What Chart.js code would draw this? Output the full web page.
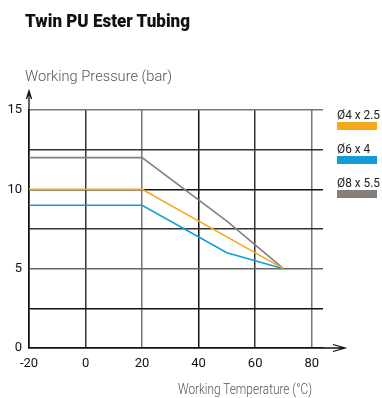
<!DOCTYPE html>
<html>
<head>
<meta charset="utf-8">
<script src="https://cdn.jsdelivr.net/npm/chart.js@4.4.1/dist/chart.umd.min.js"></script>
<style>
  html, body { margin: 0; padding: 0; background: #fff; }
  body { width: 382px; height: 398px; position: relative; overflow: hidden; font-family: Roboto, sans-serif; }
  #wrap { position: absolute; left: 0; top: 0; width: 382px; height: 398px; }
  .txt { position: absolute; white-space: nowrap; transform-origin: 0 0; line-height: 1; }
  .title { left: 25px; top: 13px; font-size: 17.5px; font-weight: 900; color: #111; }
  .ytitle { left: 25px; top: 69px; font-size: 14px; font-weight: 300; color: #555; }
  .xtitle { left: 178px; top: 382px; font-size: 14px; font-weight: 300; color: #555; }
  #legend { position: absolute; left: 337px; top: 108px; }
  .item { position: relative; height: 34px; }
  .item span { position: absolute; left: 0; top: 0; white-space: nowrap; font-size: 13px; line-height: 1; color: #222; transform-origin: 0 0; }
  .item i { position: absolute; left: 0; top: 14px; width: 40px; height: 8px; }
</style>
</head>
<body>
<div id="wrap"><canvas id="myChart"></canvas></div>
<div class="txt title" data-w="165">Twin PU Ester Tubing</div>
<div class="txt ytitle" data-w="147">Working Pressure (bar)</div>
<div class="txt xtitle" data-w="134">Working Temperature (°C)</div>
<div id="legend"></div>
<script>
const seriesNames = ['Ø4 x 2.5', 'Ø6 x 4', 'Ø8 x 5.5']
const seriesColors = ['#f6a81f', '#0f9ed9', '#877f7a']

// temperature (°C) / pressure (bar) pairs per tube size
const temp4 = [-20, 20, 70]
const pressure4 = [10, 10, 5]
const temp6 = [-20, 20, 50, 70]
const pressure6 = [9, 9, 6, 5]
const temp8 = [-20, 20, 50, 70]
const pressure8 = [12, 12, 8, 5]

const xTicks = [-20, 0, 20, 40, 60, 80]
const yLabels = [0, 5, 10, 15]

function toPoints(xs, ys) {
    return xs.map((x, i) => ({x: x, y: ys[i]}))
}

const series = [
    toPoints(temp4, pressure4),
    toPoints(temp6, pressure6),
    toPoints(temp8, pressure8)
]

// slightly uneven grid strokes
const vGrid = {'-20': '#111', '0': '#333', '20': '#777', '40': '#111', '60': '#333', '80': '#777'}
const hGrid = {'0': '#111', '2.5': '#111', '5': '#666', '7.5': '#333', '10': '#111', '12.5': '#333', '15': '#777'}

const tickFont = { family: 'Roboto, sans-serif', size: 13 }

// axis arrows drawn past the plot area
const arrows = {
    id: 'arrows',
    afterDraw(chart) {
        const ctx = chart.ctx
        const a = chart.chartArea
        ctx.save()
        ctx.strokeStyle = '#111'
        ctx.lineWidth = 1.3
        ctx.beginPath()
        ctx.moveTo(a.left, a.top)
        ctx.lineTo(a.left, a.top - 19)
        ctx.moveTo(a.left - 2.5, a.top - 11)
        ctx.lineTo(a.left, a.top - 19)
        ctx.lineTo(a.left + 2.5, a.top - 11)
        ctx.moveTo(a.right, a.bottom)
        ctx.lineTo(a.right + 22, a.bottom)
        ctx.moveTo(a.right + 10, a.bottom - 3.5)
        ctx.lineTo(a.right + 22, a.bottom)
        ctx.lineTo(a.right + 10, a.bottom + 3.5)
        ctx.stroke()
        ctx.restore()
    }
}

let currentChart

function createChart() {
    let ctx = document.getElementById('myChart')
    currentChart = new Chart(ctx, {
        type: 'line',
        data: {
            datasets: series.map((pts, i) => ({
                label: seriesNames[i],
                data: pts,
                borderColor: seriesColors[i],
                backgroundColor: seriesColors[i],
                borderWidth: 1.6,
                pointRadius: 0,
                tension: 0
            }))
        },
        options: {
            responsive: false,
            animation: false,
            layout: { padding: { top: 110, right: 59, bottom: 0, left: 0 } },
            plugins: { legend: { display: false }, tooltip: { enabled: false } },
            scales: {
                x: {
                    type: 'linear',
                    min: -20,
                    max: 84,
                    afterBuildTicks: scale => { scale.ticks = xTicks.map(v => ({value: v})) },
                    afterFit: scale => { scale.height = 50 },
                    grid: {
                        drawTicks: false,
                        lineWidth: 1.5,
                        color: c => vGrid[String(c.tick.value)] || '#333'
                    },
                    border: { color: '#111', width: 1.5 },
                    ticks: { padding: 8, color: '#111', font: tickFont }
                },
                y: {
                    min: 0,
                    max: 15,
                    afterFit: scale => { scale.width = 29 },
                    grid: {
                        drawTicks: false,
                        lineWidth: 1.5,
                        color: c => hGrid[String(c.tick.value)] || '#333'
                    },
                    border: { color: '#111', width: 1.5 },
                    ticks: {
                        stepSize: 2.5,
                        padding: 7,
                        color: '#111',
                        font: tickFont,
                        callback: v => yLabels.includes(v) ? v : ''
                    }
                }
            }
        },
        plugins: [arrows]
    })
}

function createLegend() {
    let legend = document.getElementById('legend')
    seriesNames.forEach((name, i) => {
        let item = document.createElement('div')
        item.className = 'item'
        let label = document.createElement('span')
        label.textContent = name
        let swatch = document.createElement('i')
        swatch.style.background = seriesColors[i]
        item.appendChild(label)
        item.appendChild(swatch)
        legend.appendChild(item)
    })
}

// squeeze the labels horizontally to a narrow face
function condense() {
    document.querySelectorAll('.txt').forEach(el => {
        let w = el.getBoundingClientRect().width
        el.style.transform = 'scaleX(' + (el.dataset.w / w) + ')'
    })
    let spans = document.querySelectorAll('.item span')
    let k = 43 / spans[0].getBoundingClientRect().width
    spans.forEach(s => { s.style.transform = 'scaleX(' + k + ')' })
}

let canvas = document.getElementById('myChart')
canvas.width = 382
canvas.height = 398
createChart()
createLegend()
condense()
</script>
</body>
</html>
